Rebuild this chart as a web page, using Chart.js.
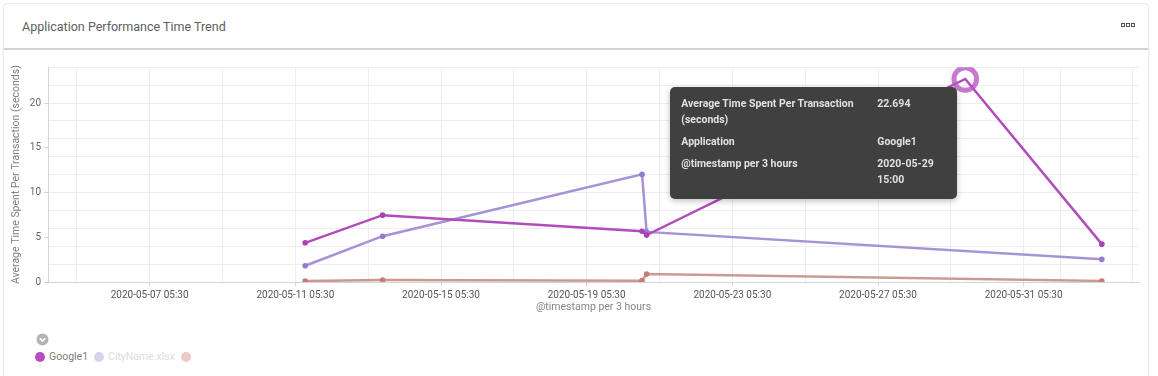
<!DOCTYPE html>
<html>
<head>
<meta charset="utf-8">
<script src="https://cdn.jsdelivr.net/npm/chart.js@4.4.1/dist/chart.umd.min.js"></script>
<style>
  html, body { margin: 0; padding: 0; background: #fff; }
  body { width: 1158px; height: 376px; position: relative; overflow: hidden; font-family: Roboto, "Noto Sans", sans-serif; }
  .card { position: absolute; left: 3px; top: 3px; width: 1144px; height: 420px; border: 1px solid #ececec; border-radius: 4px; box-shadow: 0 1px 3px rgba(0,0,0,0.05); background: #fff; }
  .header { position: absolute; left: 0; top: 0; right: 0; height: 44px; border-bottom: 2px solid #d2d2d2; }
  .title { position: absolute; left: 22px; top: 19px; font-size: 12.5px; color: #5e5e5e; }
  .menu { position: absolute; left: 1121px; top: 23px; display: flex; gap: 1px; }
  .menu span { width: 2px; height: 2px; border: 1px solid #555; }
  #wrap { position: absolute; left: 0; top: 56px; width: 1158px; height: 264px; }
  #tip { position: absolute; display: none; background: #404040; border-radius: 5px; box-shadow: 0 2px 6px rgba(0,0,0,0.25);
         padding: 9px 10px 11px 11px; color: #e0e0e0; font-weight: bold; font-size: 10.5px; line-height: 16px;
         grid-template-columns: 184px 70px; column-gap: 12px; row-gap: 6px; box-sizing: border-box; width: 287px; }
  .chev { position: absolute; left: 36px; top: 333px; }
  .legend { position: absolute; left: 35px; top: 350px; display: flex; align-items: center; font-size: 10.5px; }
  .legend .item { display: flex; align-items: center; margin-right: 6px; }
  .legend .dot { width: 10px; height: 10px; border-radius: 50%; margin-right: 4px; }
</style>
</head>
<body>
<div class="card"><div class="header"></div></div>
<div class="title">Application Performance Time Trend</div>
<div class="menu"><span></span><span></span><span></span></div>
<div id="wrap"><canvas id="chart"></canvas></div>
<div id="tip"></div>
<svg class="chev" width="13" height="13" viewBox="0 0 13 13">
  <circle cx="6.5" cy="6.5" r="6" fill="#b3b3b3"/>
  <path d="M3.8 5.3 L6.5 8 L9.2 5.3" fill="none" stroke="#fff" stroke-width="1.6"/>
</svg>
<div class="legend" id="legend"></div>
<script>
// series data
const timestamps = ['2020-05-11 12:00', '2020-05-13 15:00', '2020-05-20 18:00', '2020-05-20 21:00', '2020-05-29 15:00', '2020-06-02 09:00'];
const google1  = [4.38, 7.47, 5.68, 5.24, 22.694, 4.23];
const cityName = [1.82, 5.12, 12.03, 5.6, null, 2.53];
const unnamed  = [0.1, 0.22, 0.15, 0.89, null, 0.12];
const seriesNames = ['Google1', 'CityName.xlsx', ''];

// axis ticks
const xTickLabels = ['2020-05-07 05:30', '2020-05-11 05:30', '2020-05-15 05:30', '2020-05-19 05:30',
                     '2020-05-23 05:30', '2020-05-27 05:30', '2020-05-31 05:30'];
const xGridOnly = ['2020-05-05 05:30', '2020-05-09 05:30', '2020-05-13 05:30', '2020-05-17 05:30', '2020-05-21 05:30',
                   '2020-05-25 05:30', '2020-05-29 05:30', '2020-06-01 05:30', '2020-06-03 05:30'];
const xRange = ['2020-05-04 10:30', '2020-06-03 09:30'];
const yTickLabels = [0, 5, 10, 15, 20];
const yMax = 24;

const toMs = s => {
  const [d, t] = s.split(' ');
  const [Y, M, D] = d.split('-').map(Number);
  const [h, m] = t.split(':').map(Number);
  return Date.UTC(Y, M - 1, D, h, m);
};
const p2 = n => String(n).padStart(2, '0');
const fmt = ms => {
  const d = new Date(ms);
  return `${d.getUTCFullYear()}-${p2(d.getUTCMonth() + 1)}-${p2(d.getUTCDate())} ${p2(d.getUTCHours())}:${p2(d.getUTCMinutes())}`;
};
const labelSet = new Set(xTickLabels.map(toMs));

const colors = {
  line: ['rgb(178,76,186)', 'rgb(168,146,214)', 'rgb(206,152,146)'],
  point: ['rgb(170,66,180)', 'rgb(150,122,208)', 'rgb(196,124,118)'],
  legendDot: ['#b54cbf', '#d9d1ef', '#edcac7'],
  legendText: ['#7d7d7d', '#dedede', '#dedede']
};

const pts = arr => timestamps.map((t, i) => ({ x: toMs(t), y: arr[i] }));
const mk = (i, arr) => ({
  label: seriesNames[i],
  data: pts(arr),
  borderColor: colors.line[i],
  backgroundColor: colors.point[i],
  pointBackgroundColor: colors.point[i],
  pointBorderColor: colors.point[i],
  borderWidth: 2.5,
  pointRadius: 2.8,
  pointBorderWidth: 0,
  pointHoverRadius: 11.3,
  pointHoverBorderWidth: 5,
  pointHoverBackgroundColor: 'rgba(0,0,0,0)',
  pointHoverBorderColor: 'rgba(182,84,192,0.78)',
  spanGaps: true,
  tension: 0
});

const canvasTop = 56;
const plotTop = 66, plotBottom = 282, plotLeft = 48, plotRight = 1139;

// dark hover box next to the active point
const tipPlugin = {
  id: 'tipbox',
  afterRender(chart) {
    const el = chart.getDatasetMeta(0).data[4];
    const tip = document.getElementById('tip');
    const rows = [
      ['Average Time Spent Per Transaction (seconds)', String(google1[4])],
      ['Application', seriesNames[0]],
      ['@timestamp per 3 hours', timestamps[4]]
    ];
    tip.innerHTML = rows.map(r => `<div>${r[0]}</div><div>${r[1]}</div>`).join('');
    tip.style.display = 'grid';
    tip.style.left = (el.x - 8 - 287) + 'px';
    tip.style.top = (canvasTop + el.y + 8) + 'px';
  }
};

const chart = new Chart(document.getElementById('chart'), {
  type: 'line',
  data: {
    datasets: [mk(0, google1), mk(1, cityName), mk(2, unnamed)]
  },
  options: {
    responsive: true,
    maintainAspectRatio: false,
    animation: false,
    events: [],
    layout: { padding: { top: plotTop - canvasTop, right: 1158 - plotRight, left: 0, bottom: 0 } },
    plugins: { legend: { display: false }, tooltip: { enabled: false } },
    scales: {
      x: {
        type: 'linear',
        min: toMs(xRange[0]),
        max: toMs(xRange[1]),
        afterBuildTicks: s => {
          s.ticks = xTickLabels.concat(xGridOnly).map(toMs).sort((a, b) => a - b).map(v => ({ value: v }));
        },
        afterFit: s => { s.height = 264 - (plotBottom - canvasTop); },
        ticks: {
          autoSkip: false, maxRotation: 0, padding: 3,
          color: '#555', font: { family: 'Roboto', size: 10 },
          callback: v => labelSet.has(v) ? fmt(v) : ''
        },
        grid: {
          color: '#eeeeee', tickLength: 4,
          tickColor: c => (c.tick && labelSet.has(c.tick.value)) ? '#d6d6d6' : 'rgba(0,0,0,0)'
        },
        border: { color: '#d4d4d4' },
        title: { display: true, text: '@timestamp per 3 hours', color: '#858585', font: { family: 'Roboto', size: 10.5 }, padding: { top: 0, bottom: 6 } }
      },
      y: {
        min: 0, max: yMax,
        afterFit: s => { s.width = plotLeft; },
        afterBuildTicks: s => {
          const vals = [];
          for (let v = 0; v <= yMax; v++) if (v % 2 === 0 || yTickLabels.includes(v)) vals.push(v);
          s.ticks = vals.map(v => ({ value: v }));
        },
        ticks: {
          autoSkip: false, padding: 3,
          color: '#666', font: { family: 'Roboto', size: 10 },
          callback: v => yTickLabels.includes(v) ? String(v) : ''
        },
        grid: {
          color: c => (c.tick && c.tick.value % 2 === 0) ? '#eeeeee' : 'rgba(0,0,0,0)',
          tickLength: 4,
          tickColor: c => (c.tick && yTickLabels.includes(c.tick.value)) ? '#d6d6d6' : 'rgba(0,0,0,0)'
        },
        border: { color: '#d4d4d4' },
        title: { display: true, text: 'Average Time Spent Per Transaction (seconds)', color: '#7f7f7f', font: { family: 'Roboto', size: 10.5 }, padding: { top: 10, bottom: 0 } }
      }
    }
  },
  plugins: [tipPlugin]
});

chart.setActiveElements([{ datasetIndex: 0, index: 4 }]);
chart.update('none');

// legend under the chart
document.getElementById('legend').innerHTML = seriesNames.map((n, i) =>
  `<div class="item"><span class="dot" style="background:${colors.legendDot[i]}"></span><span style="color:${colors.legendText[i]}">${n}</span></div>`
).join('');
</script>
</body>
</html>
